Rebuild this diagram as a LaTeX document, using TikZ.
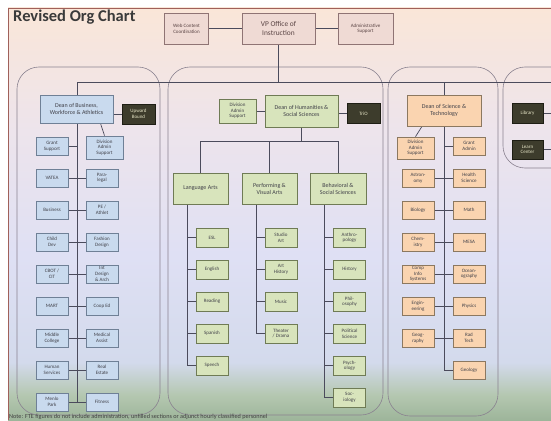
\documentclass[tikz,border=0pt]{standalone}
\usepackage{fontspec}
\setmainfont{Carlito}

\definecolor{bgA}{HTML}{9DB59A}
\definecolor{bgB}{HTML}{B4C7B0}
\definecolor{bgC}{HTML}{D3DAEC}
\definecolor{bgD}{HTML}{DFE0F4}
\definecolor{bgE}{HTML}{EDE4EC}
\definecolor{bgF}{HTML}{FAE6D8}
\definecolor{framecol}{HTML}{A0605A}
\definecolor{titlecol}{HTML}{3A3A3A}
\definecolor{notecol}{HTML}{404040}
\definecolor{topfill}{HTML}{EFDAD4}
\definecolor{topline}{HTML}{8F7474}
\definecolor{toptext}{HTML}{5A4444}
\definecolor{bizfill}{HTML}{C9DAEE}
\definecolor{bizline}{HTML}{6F8096}
\definecolor{humfill}{HTML}{D8E4BC}
\definecolor{humline}{HTML}{6F7B55}
\definecolor{scifill}{HTML}{FAD4B0}
\definecolor{sciline}{HTML}{8C7860}
\definecolor{darkfill}{HTML}{3D3C2C}
\definecolor{darkline}{HTML}{1E1E14}
\definecolor{darktext}{HTML}{E8E6C8}
\definecolor{boxtext}{HTML}{404048}
\definecolor{linkcol}{HTML}{4B4B5C}
\definecolor{panelcol}{HTML}{8A8290}

\pgfdeclareverticalshading{orgbg}{100bp}{color(0bp)=(bgA); color(25bp)=(bgA);
  color(28bp)=(bgB); color(32bp)=(bgC); color(45bp)=(bgD); color(60bp)=(bgE);
  color(75bp)=(bgF); color(100bp)=(bgF)}

\pgfdeclarelayer{bg}
\pgfdeclarelayer{wires}
\pgfsetlayers{bg,wires,main}

\tikzset{
  box/.style={draw, rectangle, align=center, inner sep=1pt, line width=0.7pt,
    text=boxtext, font=\fontsize{5}{5.6}\selectfont},
  topbox/.style={box, fill=topfill, draw=topline, text=toptext,
    minimum width=44pt, minimum height=31pt},
  bizbox/.style={box, fill=bizfill, draw=bizline, minimum width=32pt, minimum height=18pt},
  humbox/.style={box, fill=humfill, draw=humline, minimum width=32pt, minimum height=19pt},
  scibox/.style={box, fill=scifill, draw=sciline, minimum width=32pt, minimum height=18pt},
  darkbox/.style={box, fill=darkfill, draw=darkline, text=darktext,
    minimum width=33pt, minimum height=20pt},
  deanfont/.style={font=\fontsize{6}{7}\selectfont},
  panel/.style={draw=panelcol, line width=0.6pt, rounded corners=22pt},
  link/.style={draw=linkcol, line width=0.7pt}
}

\begin{document}
\begin{tikzpicture}[x=1pt, y=-1pt]

  \useasboundingbox (0,0) rectangle (551,420);

  % top row
  \begin{scope}[every node/.style={topbox}]
    \node (web) at (186.5,28.5) {Web Content\\Coordination};
    \node[minimum width=73pt, font=\fontsize{7.4}{8.8}\selectfont] (vp) at (278.5,28.5) {VP Office of\\Instruction};
    \node[minimum width=55pt] (adm) at (365.5,28.5) {Administrative\\Support};
  \end{scope}

  \node[anchor=west, inner sep=0pt, text=titlecol, font=\bfseries\fontsize{16.5}{18}\selectfont]
    (title) at (13,17) {Revised Org Chart};
  \node[anchor=west, inner sep=0pt, text=notecol, font=\fontsize{6.2}{7}\selectfont]
    (note) at (9,416.5) {Note: FTE figures do not include administration, unfilled sections or adjunct hourly classified personnel};

  % business, workforce and athletics
  \begin{scope}[every node/.style={bizbox}]
    \node[deanfont, minimum width=73pt, minimum height=28pt] (dbus) at (76.5,109) {Dean of Business,\\Workforce \& Athletics};
    \node (grant) at (52,146)  {Grant\\Support};
    \node[minimum width=37pt, minimum height=23pt] (divb) at (104.5,147.5) {Division\\Admin\\Support};
    \node (vatea) at (52,178)  {VATEA};
    \node (para)  at (102,178) {Para-\\legal};
    \node (busi)  at (52,210)  {Business};
    \node (pe)    at (102,210) {PE /\\Athlet};
    \node (child) at (52,242)  {Child\\Dev};
    \node (fash)  at (102,242) {Fashion\\Design};
    \node (cbot)  at (52,274)  {CBOT /\\CIT};
    \node (intd)  at (102,274) {Int\\Design\\\& Arch};
    \node (mart)  at (52,306)  {MART};
    \node (coop)  at (102,306) {Coop Ed};
    \node (midc)  at (52,338)  {Middle\\College};
    \node (meda)  at (102,338) {Medical\\Assist};
    \node (hums)  at (52,370)  {Human\\Services};
    \node (real)  at (102,370) {Real\\Estate};
    \node (menlo) at (52,402)  {Menlo\\Park};
    \node (fit)   at (102,402) {Fitness};
  \end{scope}

  % humanities and social sciences
  \begin{scope}[every node/.style={humbox}]
    \node[deanfont, minimum width=73pt, minimum height=32pt] (dhum) at (301.5,111) {Dean of Humanities \&\\Social Sciences};
    \node[minimum width=37pt, minimum height=24pt] (divh) at (237.5,111) {Division\\Admin\\Support};
    \node[deanfont, minimum width=55pt, minimum height=31pt] (lang) at (200.5,188.5) {Language Arts};
    \node[deanfont, minimum width=55pt, minimum height=31pt] (perf) at (269.5,188.5) {Performing \&\\Visual Arts};
    \node[deanfont, minimum width=56pt, minimum height=31pt] (beh)  at (338,188.5)   {Behavioral \&\\Social Sciences};
    \node (esl)  at (212,237.5) {ESL};
    \node (eng)  at (212,269.5) {English};
    \node (read) at (212,301.5) {Reading};
    \node (span) at (212,333.5) {Spanish};
    \node (spch) at (212,365.5) {Speech};
    \node (stud) at (281,237.5) {Studio\\Art};
    \node (arth) at (281,269.5) {Art\\History};
    \node (mus)  at (281,301.5) {Music};
    \node (thea) at (281,333.5) {Theater\\/ Drama};
    \node (anth) at (349.5,237.5) {Anthro-\\pology};
    \node (hist) at (349.5,269.5) {History};
    \node (phil) at (349.5,301.5) {Phil-\\osophy};
    \node (pols) at (349.5,333.5) {Political\\Science};
    \node (psyc) at (349.5,365.5) {Psych-\\ology};
    \node (soci) at (349.5,397.5) {Soc-\\iology};
  \end{scope}

  % science and technology
  \begin{scope}[every node/.style={scibox}]
    \node[deanfont, minimum width=74pt, minimum height=31pt] (dsci) at (444,110.5) {Dean of Science \&\\Technology};
    \node[minimum width=37pt, minimum height=22pt] (divs) at (415.5,148) {Division\\Admin\\Support};
    \node (gadm)  at (469,146) {Grant\\Admin};
    \node (astr)  at (418,178) {Astron-\\omy};
    \node (hlth)  at (469,178) {Health\\Science};
    \node (biol)  at (418,210) {Biology};
    \node (math)  at (469,210) {Math};
    \node (chem)  at (418,242) {Chem-\\istry};
    \node (mesa)  at (469,242) {MESA};
    \node (cis)   at (418,274) {Comp\\Info\\Systems};
    \node (ocean) at (469,274) {Ocean-\\ography};
    \node (engr)  at (418,306) {Engin-\\eering};
    \node (phys)  at (469,306) {Physics};
    \node (geog)  at (418,338) {Geog-\\raphy};
    \node (rad)   at (469,338) {Rad\\Tech};
    \node (geol)  at (469,370) {Geology};
  \end{scope}

  \begin{scope}[every node/.style={darkbox}]
    \node (upb)  at (138.5,114)   {Upward\\Bound};
    \node (trio) at (363.5,113.5) {TriO};
    \node[minimum width=31pt] (lib) at (527.5,113)   {Library};
    \node[minimum width=31pt, minimum height=19pt] (lrn) at (527.5,149.5) {Learn\\Center};
  \end{scope}

  \coordinate (busL)   at (77,82);
  \coordinate (busR)   at (551,82);
  \coordinate (bizEnd) at (77,402);
  \coordinate (sciTop) at (444,82);
  \coordinate (sciEnd) at (444,370);
  \coordinate (humL)   at (200.5,141);
  \coordinate (humR)   at (338,141);
  \coordinate (langSp) at (187,204);
  \coordinate (perfSp) at (256,204);
  \coordinate (behSp)  at (324,204);

  \begin{pgfonlayer}{bg}
    \fill[shading=orgbg] (8,8) rectangle (551,420);
    \draw[framecol, line width=0.8pt] (8,420) -- (8,8) -- (551,8);
    \draw[panel] (17,67) rectangle (160,415);
    \draw[panel] (168,67) rectangle (383,415);
    \draw[panel] (388,67) rectangle (498,416);
    \draw[panel] (575,168) -- (503,168) -- (503,67) -- (575,67);
  \end{pgfonlayer}

  \begin{pgfonlayer}{wires}
    \begin{scope}[every edge/.style={link}]
      \path (web) edge (vp);
      \path (vp)  edge (adm);
      \path (vp)  edge (vp |- busL);
      \path (busL) edge (busR);

      % business
      \path (busL)  edge (bizEnd);
      \path (upb)   edge (upb -| dbus.east);
      \path ([xshift=24pt]dbus.south) edge (divb.north);
      \path (grant) edge (grant -| busL);
      \path (vatea) edge (para);
      \path (busi)  edge (pe);
      \path (child) edge (fash);
      \path (cbot)  edge (intd);
      \path (mart)  edge (coop);
      \path (midc)  edge (meda);
      \path (hums)  edge (real);
      \path (menlo) edge (fit);

      % humanities
      \path (divh) edge (dhum);
      \path (trio) edge (trio -| dhum.east);
      \path (dhum) edge (dhum |- humL);
      \path (humL) edge (humR);
      \path (humL) edge (lang);
      \path (perf) edge (perf |- humL);
      \path (humR) edge (beh);
      \path (langSp) edge[to path={|- (\tikztotarget)}] (spch);
      \path (perfSp) edge[to path={|- (\tikztotarget)}] (thea);
      \path (behSp)  edge[to path={|- (\tikztotarget)}] (soci);
      \path (esl)  edge (esl -| langSp);
      \path (eng)  edge (eng -| langSp);
      \path (read) edge (read -| langSp);
      \path (span) edge (span -| langSp);
      \path (stud) edge (stud -| perfSp);
      \path (arth) edge (arth -| perfSp);
      \path (mus)  edge (mus -| perfSp);
      \path (anth) edge (anth -| behSp);
      \path (hist) edge (hist -| behSp);
      \path (phil) edge (phil -| behSp);
      \path (pols) edge (pols -| behSp);
      \path (psyc) edge (psyc -| behSp);

      % science
      \path (sciTop) edge (sciEnd);
      \path ([xshift=-22pt]dsci.south) edge (divs.north);
      \path (gadm) edge (gadm -| sciTop);
      \path (astr) edge (hlth);
      \path (biol) edge (math);
      \path (chem) edge (mesa);
      \path (cis)  edge (ocean);
      \path (engr) edge (phys);
      \path (geog) edge (rad);
      \path (geol) edge (geol -| sciTop);

      % learning resources
      \path (lib) edge (lib -| busR);
      \path (lrn) edge (lrn -| busR);
    \end{scope}
  \end{pgfonlayer}

\end{tikzpicture}
\end{document}
